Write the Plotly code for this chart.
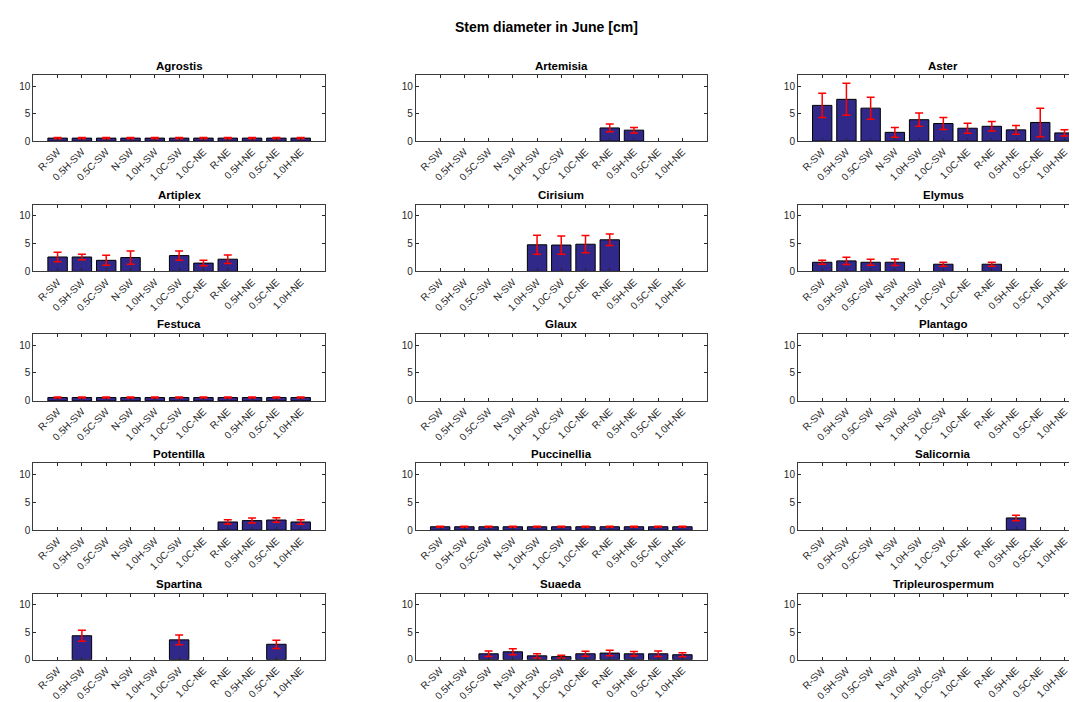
import plotly.graph_objects as go

W, H = 1077, 702

categories = ["R-SW", "0.5H-SW", "0.5C-SW", "N-SW", "1.0H-SW", "1.0C-SW",
              "1.0C-NE", "R-NE", "0.5H-NE", "0.5C-NE", "1.0H-NE"]

species = ["Agrostis", "Artemisia", "Aster",
           "Artiplex", "Cirisium", "Elymus",
           "Festuca", "Glaux", "Plantago",
           "Potentilla", "Puccinellia", "Salicornia",
           "Spartina", "Suaeda", "Tripleurospermum"]

N = None
agrostis_mean = [0.55] * 11
agrostis_err = [0.1] * 11
artemisia_mean = [N, N, N, N, N, N, N, 2.4, 2.0, N, N]
artemisia_err = [N, N, N, N, N, N, N, 0.7, 0.5, N, N]
aster_mean = [6.5, 7.6, 6.0, 1.6, 3.9, 3.2, 2.35, 2.7, 2.05, 3.4, 1.5]
aster_err = [2.2, 2.9, 2.0, 0.9, 1.2, 1.1, 0.9, 0.85, 0.8, 2.6, 0.55]
artiplex_mean = [2.6, 2.6, 2.0, 2.5, N, 2.85, 1.5, 2.2, N, N, N]
artiplex_err = [0.85, 0.5, 0.9, 1.2, N, 0.85, 0.5, 0.75, N, N, N]
cirisium_mean = [N, N, N, N, 4.8, 4.75, 4.9, 5.7, N, N, N]
cirisium_err = [N, N, N, N, 1.7, 1.65, 1.55, 1.05, N, N, N]
elymus_mean = [1.65, 1.9, 1.65, 1.65, N, 1.3, N, 1.3, N, N, N]
elymus_err = [0.35, 0.65, 0.55, 0.6, N, 0.35, N, 0.35, N, N, N]
festuca_mean = [0.6] * 11
festuca_err = [0.1] * 11
glaux_mean = [N] * 11
glaux_err = [N] * 11
plantago_mean = [N] * 11
plantago_err = [N] * 11
potentilla_mean = [N, N, N, N, N, N, N, 1.48, 1.72, 1.83, 1.48]
potentilla_err = [N, N, N, N, N, N, N, 0.38, 0.45, 0.4, 0.4]
puccinellia_mean = [0.62] * 11
puccinellia_err = [0.1] * 11
salicornia_mean = [N, N, N, N, N, N, N, N, 2.2, N, N]
salicornia_err = [N, N, N, N, N, N, N, N, 0.5, N, N]
spartina_mean = [N, 4.35, N, N, N, 3.6, N, N, N, 2.8, N]
spartina_err = [N, 1.0, N, N, N, 0.9, N, N, N, 0.75, N]
suaeda_mean = [N, N, 1.07, 1.43, 0.7, 0.55, 1.07, 1.2, 1.07, 1.07, 0.9]
suaeda_err = [N, N, 0.5, 0.55, 0.4, 0.25, 0.45, 0.5, 0.4, 0.5, 0.35]
tripleuro_mean = [N] * 11
tripleuro_err = [N] * 11

means = [agrostis_mean, artemisia_mean, aster_mean,
         artiplex_mean, cirisium_mean, elymus_mean,
         festuca_mean, glaux_mean, plantago_mean,
         potentilla_mean, puccinellia_mean, salicornia_mean,
         spartina_mean, suaeda_mean, tripleuro_mean]
errs = [agrostis_err, artemisia_err, aster_err,
        artiplex_err, cirisium_err, elymus_err,
        festuca_err, glaux_err, plantago_err,
        potentilla_err, puccinellia_err, salicornia_err,
        spartina_err, suaeda_err, tripleuro_err]

y_ticks = [0, 5, 10]
y_range = [0, 12]

# pixel layout of the axes boxes (third column runs past the right edge)
col_px = [(25.3, 317.3), (408.3, 699.3), (790.7, 1081.7)]
row_px = [(67.7, 134.3), (198.5, 265.7), (328.7, 396.3), (459.3, 526.7), (590.7, 657.3)]

FONT = "Liberation Sans, Arial, Helvetica, sans-serif"
BAR_COLOR = "#31298A"
AX_COLOR = "#262626"
LINE_COLOR = "#3a3a3a"

fig = go.Figure()
annotations = []
for i, name in enumerate(species):
    r, c = divmod(i, 3)
    idx = "" if i == 0 else str(i + 1)
    xa, ya = "x" + idx, "y" + idx
    fig.add_trace(go.Bar(
        x=categories, y=means[i],
        marker=dict(color=BAR_COLOR, line=dict(color="black", width=1)),
        width=0.8,
        error_y=dict(type="data", array=errs[i], color="#FF0000",
                     thickness=1.5, width=4),
        xaxis=xa, yaxis=ya, showlegend=False,
    ))
    x0, x1 = col_px[c]
    x1c = min(x1, W)
    xr_end = -1 + 12 * (x1c - x0) / (x1 - x0)
    t0, t1 = row_px[r]
    fig.layout["xaxis" + idx] = dict(
        domain=[x0 / W, x1c / W], anchor=ya,
        type="category", categoryorder="array", categoryarray=categories,
        range=[-1, xr_end],
        tickangle=-45, tickfont=dict(size=10, color=AX_COLOR, family=FONT),
        ticks="inside", ticklen=3, tickcolor=AX_COLOR,
        showline=True, linecolor=LINE_COLOR, linewidth=1, mirror="ticks",
        showgrid=False, zeroline=False, fixedrange=True,
    )
    fig.layout["yaxis" + idx] = dict(
        domain=[1 - t1 / H, 1 - t0 / H], anchor=xa,
        range=y_range, tickvals=y_ticks,
        tickfont=dict(size=10, color=AX_COLOR, family=FONT),
        ticks="inside", ticklen=3, tickcolor=AX_COLOR,
        showline=True, linecolor=LINE_COLOR, linewidth=1, mirror="ticks",
        showgrid=False, zeroline=False, fixedrange=True,
    )
    annotations.append(dict(
        text="<b>" + name + "</b>", x=(x0 + x1) / 2 / W, y=1 - (t0 - 1.5) / H,
        xref="paper", yref="paper", xanchor="center", yanchor="bottom",
        showarrow=False, font=dict(size=11.5, color="black", family=FONT),
    ))

annotations.append(dict(
    text="<b>Stem diameter in June [cm]</b>", x=0.5, y=1 - 9 / H,
    xref="paper", yref="paper", xanchor="center", yanchor="top",
    showarrow=False, font=dict(size=14, color="black", family=FONT),
))

fig.update_layout(
    width=W, height=H, margin=dict(l=0, r=0, t=0, b=0),
    paper_bgcolor="white", plot_bgcolor="white",
    annotations=annotations, bargap=0.2,
    font=dict(family=FONT),
)

fig.write_html("out.html")
